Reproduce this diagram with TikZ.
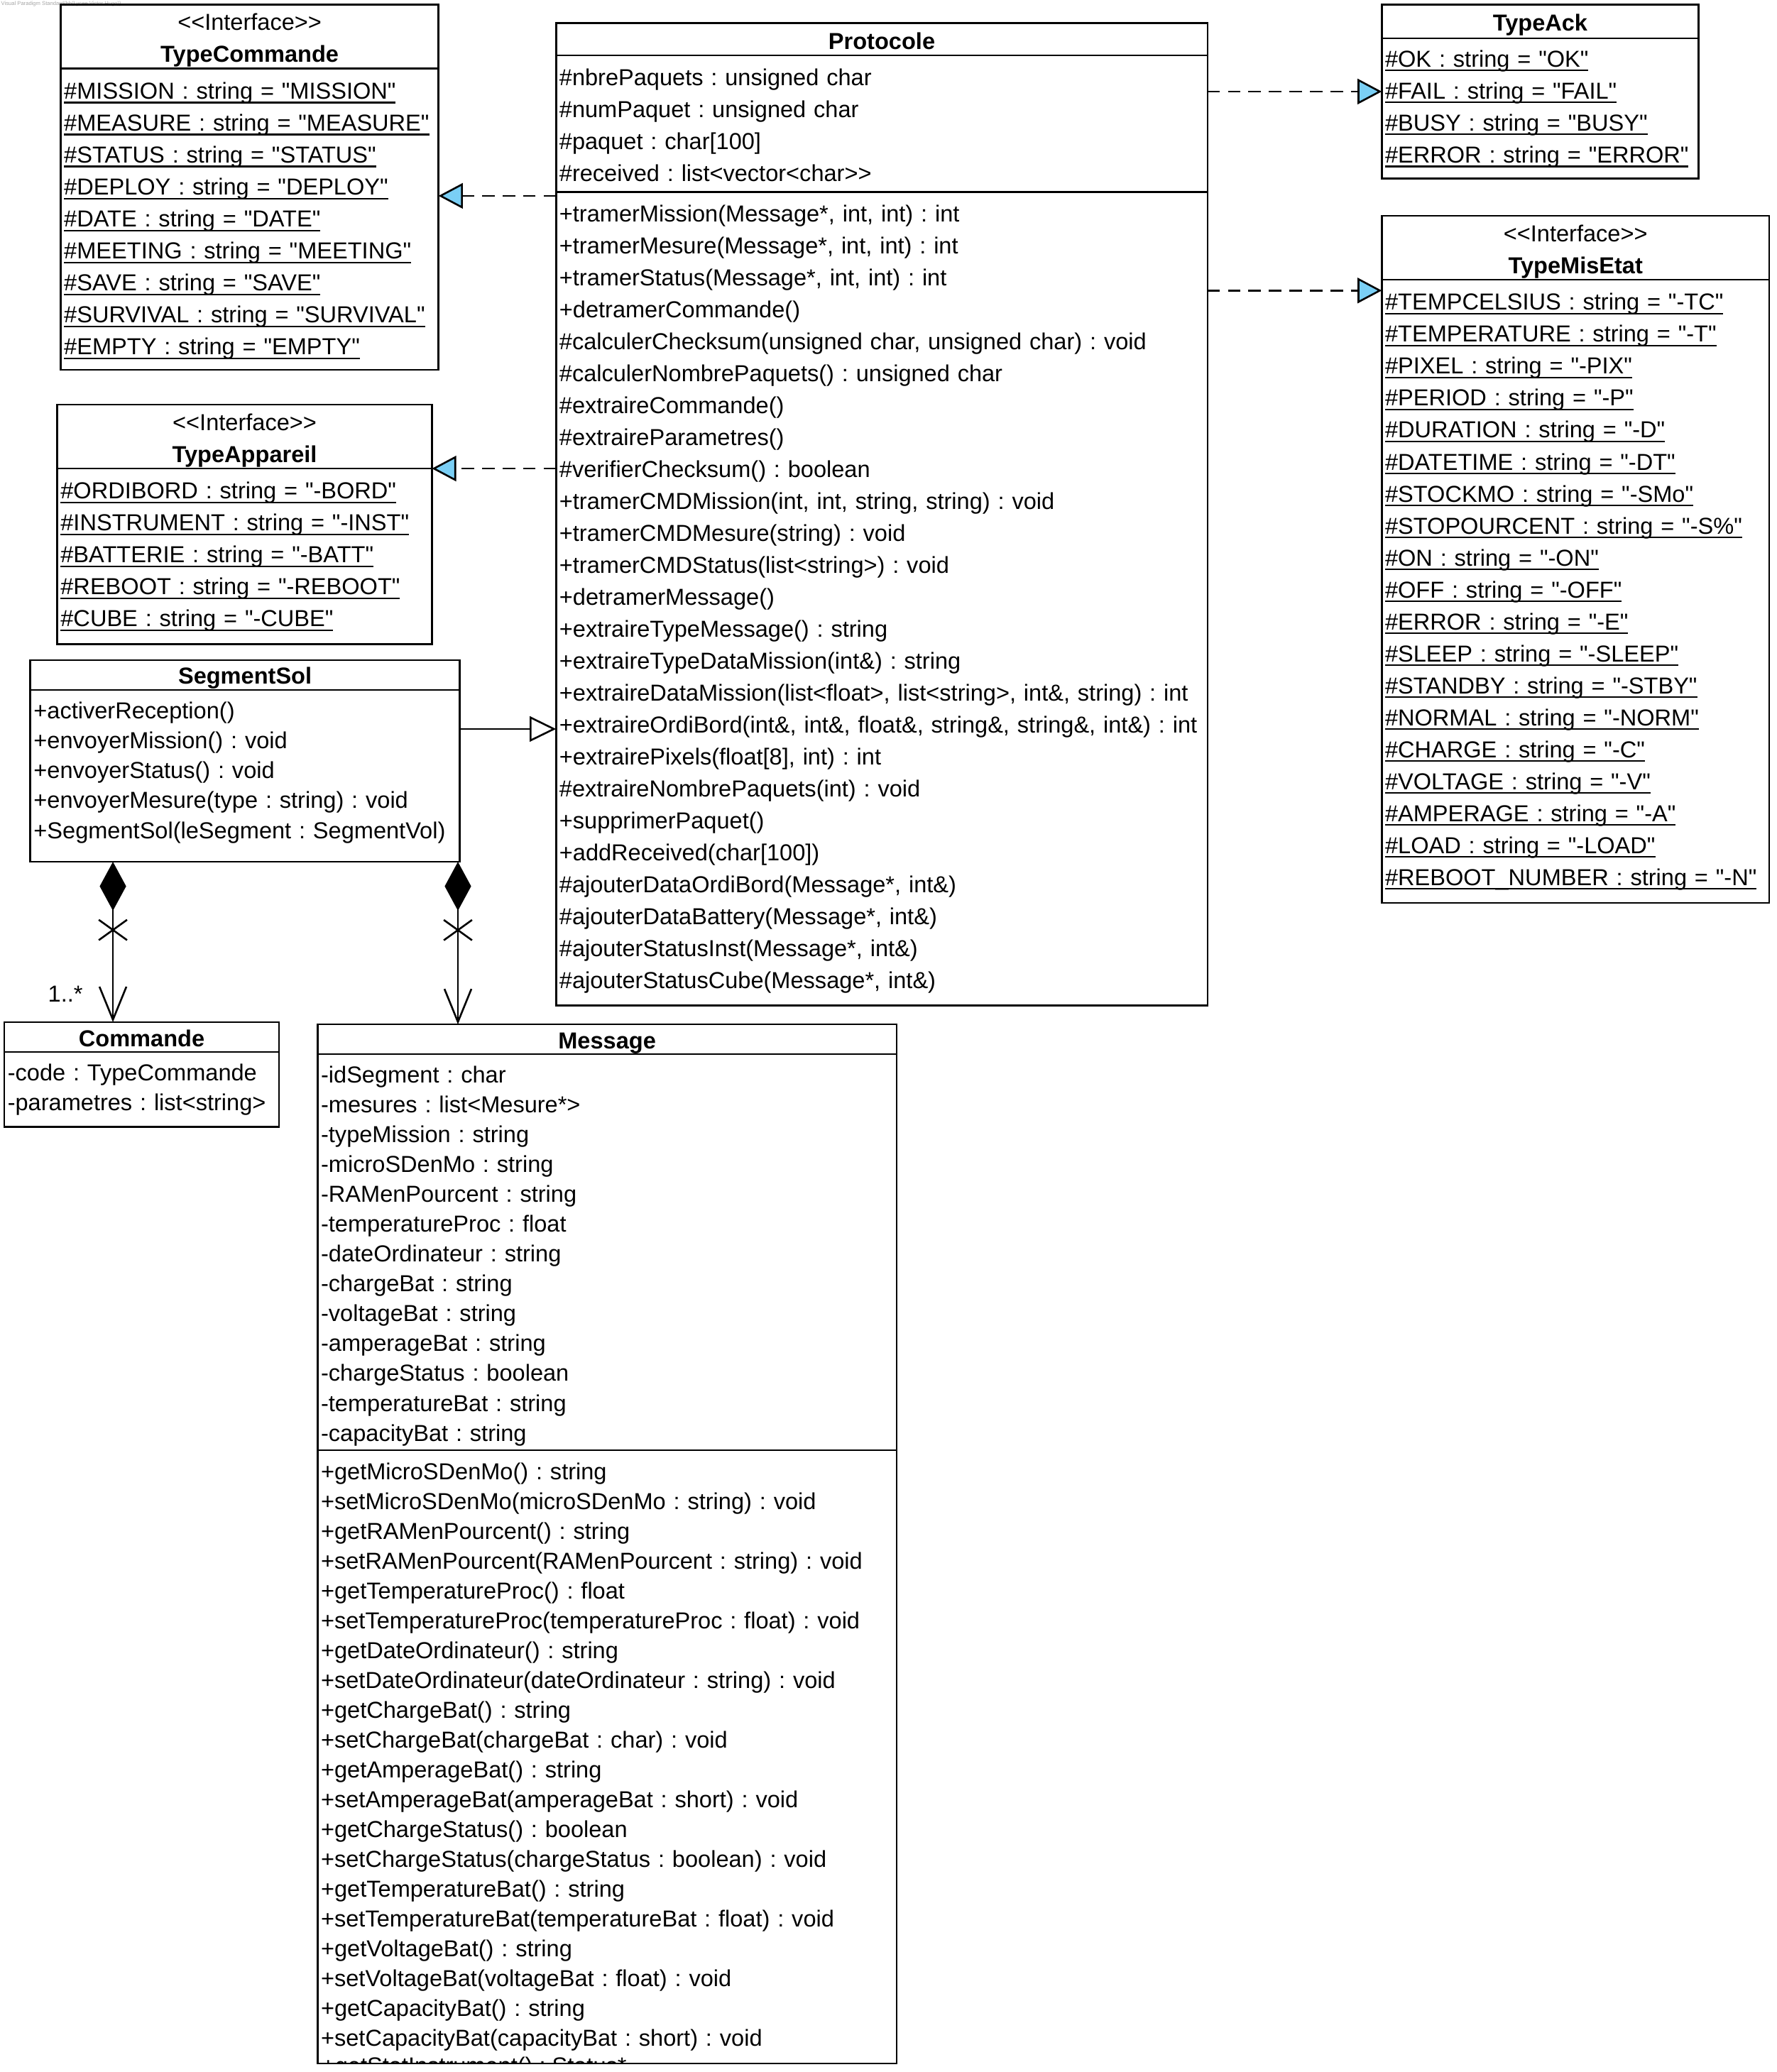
\documentclass[tikz,border=0pt]{standalone}
\usepackage{fontspec}
\setmainfont{Liberation Sans}[Ligatures=TeXOff]
\usetikzlibrary{positioning, arrows.meta, shapes.misc}

\definecolor{ifblue}{RGB}{122,207,245}
\newcommand{\umlA}{\fontsize{8.75pt}{12.1pt}\selectfont\frenchspacing}
\newcommand{\umlB}{\fontsize{8.75pt}{11.3pt}\selectfont\frenchspacing}
\newlength{\statwd}
\newcommand{\stat}[1]{\settowidth{\statwd}{#1}\mbox{\rlap{\rule[-1.65pt]{\statwd}{0.62pt}}#1}}

\tikzset{
    textdown/.store in=\txtdown, textdown=0pt, % moves the rows of a compartment down
    umlpart/.style={draw, line width=0.7pt, outer sep=0pt, inner xsep=1.25pt, inner ysep=0pt, font=\umlA,
        execute at begin node={\rule{0pt}{\dimexpr0.7\baselineskip+\txtdown\relax}},
        execute at end node={\rule[\dimexpr-0.3\baselineskip+\txtdown\relax]{0pt}{\dimexpr0.3\baselineskip-\txtdown\relax}}}, % one compartment of a class
    classhead/.style={umlpart, align=center, anchor=north west, textdown=1.25pt}, % compartment with the class name
    classbody/.style={umlpart, align=left, below=0pt of #1}, % attributes or operations
    realize/.style={dash pattern=on 4.75pt off 3pt, line width=0.7pt, arrows={-Triangle[length=9.2pt, width=9.6pt, fill=ifblue]}},
    generalize/.style={line width=0.7pt, arrows={-Triangle[length=10pt, width=9.6pt, fill=white]}},
    compose/.style={line width=0.7pt, arrows={Diamond[length=18.5pt, width=10pt, fill=black]-Straight Barb[length=12.5pt, width=10.2pt]}},
    xmark/.style={cross out, draw, solid, line width=0.7pt, minimum width=10pt, minimum height=7pt, inner sep=0pt},
}

\begin{document}
\begin{tikzpicture}[x=0.5pt, y=-0.5pt]
        \useasboundingbox (0,0) rectangle (1345,1569);

        % Nodes
        \node[anchor=west, inner sep=0pt, text=gray!70, font=\fontsize{2.05pt}{2.5pt}\selectfont] (vp-mark) at (0.5,3.2)
            {Visual Paradigm Standard(hh(Lycee Victor Hugo))};

        % TypeCommande
        \node[classhead, text width=140.5pt, minimum height=24.25pt] (typecmd-title) at (46,3.5)
            {<{}<Interface>{}>\\\textbf{TypeCommande}};
        \node[classbody=typecmd-title, textdown=0.5pt, text width=140.5pt, minimum height=114pt] (typecmd-attr) {
            \stat{\#MISSION : string = "MISSION"}\\
            \stat{\#MEASURE : string = "MEASURE"}\\
            \stat{\#STATUS : string = "STATUS"}\\
            \stat{\#DEPLOY : string = "DEPLOY"}\\
            \stat{\#DATE : string = "DATE"}\\
            \stat{\#MEETING : string = "MEETING"}\\
            \stat{\#SAVE : string = "SAVE"}\\
            \stat{\#SURVIVAL : string = "SURVIVAL"}\\
            \stat{\#EMPTY : string = "EMPTY"}};

        % TypeAppareil
        \node[classhead, text width=139.3pt, minimum height=24pt] (typeapp-title) at (43.4,306.4)
            {<{}<Interface>{}>\\\textbf{TypeAppareil}};
        \node[classbody=typeapp-title, text width=139.3pt, minimum height=66.45pt] (typeapp-attr) {
            \stat{\#ORDIBORD : string = "-BORD"}\\
            \stat{\#INSTRUMENT : string = "-INST"}\\
            \stat{\#BATTERIE : string = "-BATT"}\\
            \stat{\#REBOOT : string = "-REBOOT"}\\
            \stat{\#CUBE : string = "-CUBE"}};

        % SegmentSol
        \node[classhead, font=\umlB, text width=160pt, minimum height=11pt] (segsol-title) at (23,499.8)
            {\textbf{SegmentSol}};
        \node[classbody=segsol-title, textdown=-1.2pt, font=\umlB, text width=160pt, minimum height=65.1pt] (segsol-ops) {
            +activerReception()\\
            +envoyerMission() : void\\
            +envoyerStatus() : void\\
            +envoyerMesure(type : string) : void\\
            +SegmentSol(leSegment : SegmentVol)};

        % Protocole
        \node[classhead, text width=244.1pt, minimum height=12.15pt] (proto-title) at (421,17.6)
            {\textbf{Protocole}};
        \node[classbody=proto-title, textdown=1.25pt, text width=244.1pt, minimum height=51.8pt] (proto-attr) {
            \#nbrePaquets : unsigned char\\
            \#numPaquet : unsigned char\\
            \#paquet : char[100]\\
            \#received : list<vector<char>{}>};
        \node[classbody=proto-attr, text width=244.1pt, minimum height=307.95pt] (proto-ops) {
            +tramerMission(Message*, int, int) : int\\
            +tramerMesure(Message*, int, int) : int\\
            +tramerStatus(Message*, int, int) : int\\
            +detramerCommande()\\
            \#calculerChecksum(unsigned char, unsigned char) : void\\
            \#calculerNombrePaquets() : unsigned char\\
            \#extraireCommande()\\
            \#extraireParametres()\\
            \#verifierChecksum() : boolean\\
            +tramerCMDMission(int, int, string, string) : void\\
            +tramerCMDMesure(string) : void\\
            +tramerCMDStatus(list<string>) : void\\
            +detramerMessage()\\
            +extraireTypeMessage() : string\\
            +extraireTypeDataMission(int\&) : string\\
            +extraireDataMission(list<float>, list<string>, int\&, string) : int\\
            \mbox{+extraireOrdiBord(int\&, int\&, float\&, string\&, string\&, int\&) : int}\\
            +extrairePixels(float[8], int) : int\\
            \#extraireNombrePaquets(int) : void\\
            +supprimerPaquet()\\
            +addReceived(char[100])\\
            \#ajouterDataOrdiBord(Message*, int\&)\\
            \#ajouterDataBattery(Message*, int\&)\\
            \#ajouterStatusInst(Message*, int\&)\\
            \#ajouterStatusCube(Message*, int\&)};

        % TypeAck
        \node[classhead, text width=117.4pt, minimum height=12.75pt] (typeack-title) at (1046.2,3.5)
            {\textbf{TypeAck}};
        \node[classbody=typeack-title, text width=117.4pt, minimum height=53.15pt] (typeack-attr) {
            \stat{\#OK : string = "OK"}\\
            \stat{\#FAIL : string = "FAIL"}\\
            \stat{\#BUSY : string = "BUSY"}\\
            \stat{\#ERROR : string = "ERROR"}};

        % TypeMisEtat
        \node[classhead, text width=144.15pt, minimum height=23.9pt] (typemis-title) at (1046.2,163.4)
            {<{}<Interface>{}>\\\textbf{TypeMisEtat}};
        \node[classbody=typemis-title, text width=144.15pt, minimum height=236pt] (typemis-attr) {
            \stat{\#TEMPCELSIUS : string = "-TC"}\\
            \stat{\#TEMPERATURE : string = "-T"}\\
            \stat{\#PIXEL : string = "-PIX"}\\
            \stat{\#PERIOD : string = "-P"}\\
            \stat{\#DURATION : string = "-D"}\\
            \stat{\#DATETIME : string = "-DT"}\\
            \stat{\#STOCKMO : string = "-SMo"}\\
            \stat{\#STOPOURCENT : string = "-S\%"}\\
            \stat{\#ON : string = "-ON"}\\
            \stat{\#OFF : string = "-OFF"}\\
            \stat{\#ERROR : string = "-E"}\\
            \stat{\#SLEEP : string = "-SLEEP"}\\
            \stat{\#STANDBY : string = "-STBY"}\\
            \stat{\#NORMAL : string = "-NORM"}\\
            \stat{\#CHARGE : string = "-C"}\\
            \stat{\#VOLTAGE : string = "-V"}\\
            \stat{\#AMPERAGE : string = "-A"}\\
            \stat{\#LOAD : string = "-LOAD"}\\
            \stat{\#REBOOT\_NUMBER : string = "-N"}};

        % Commande
        \node[classhead, font=\umlB, text width=101.45pt, minimum height=11.15pt] (cmd-title) at (3.3,774)
            {\textbf{Commande}};
        \node[classbody=cmd-title, font=\umlB, text width=101.45pt, minimum height=28.35pt] (cmd-attr) {
            -code : TypeCommande\\
            -parametres : list<string>};

        % Message
        \node[classhead, font=\umlB, text width=216.65pt, minimum height=11.2pt] (msg-title) at (240.5,775.7)
            {\textbf{Message}};
        \node[classbody=msg-title, textdown=1.4pt, font=\umlB, text width=216.65pt, minimum height=149.95pt] (msg-attr) {
            -idSegment : char\\
            -mesures : list<Mesure*>\\
            -typeMission : string\\
            -microSDenMo : string\\
            -RAMenPourcent : string\\
            -temperatureProc : float\\
            -dateOrdinateur : string\\
            -chargeBat : string\\
            -voltageBat : string\\
            -amperageBat : string\\
            -chargeStatus : boolean\\
            -temperatureBat : string\\
            -capacityBat : string};
        \node[classbody=msg-attr, font=\umlB, text width=216.65pt, minimum height=232.2pt] (msg-ops) {
            +getMicroSDenMo() : string\\
            +setMicroSDenMo(microSDenMo : string) : void\\
            +getRAMenPourcent() : string\\
            +setRAMenPourcent(RAMenPourcent : string) : void\\
            +getTemperatureProc() : float\\
            +setTemperatureProc(temperatureProc : float) : void\\
            +getDateOrdinateur() : string\\
            +setDateOrdinateur(dateOrdinateur : string) : void\\
            +getChargeBat() : string\\
            +setChargeBat(chargeBat : char) : void\\
            +getAmperageBat() : string\\
            +setAmperageBat(amperageBat : short) : void\\
            +getChargeStatus() : boolean\\
            +setChargeStatus(chargeStatus : boolean) : void\\
            +getTemperatureBat() : string\\
            +setTemperatureBat(temperatureBat : float) : void\\
            +getVoltageBat() : string\\
            +setVoltageBat(voltageBat : float) : void\\
            +getCapacityBat() : string\\
            +setCapacityBat(capacityBat : short) : void};
        % last operation, cut by the bottom of the box
        \begin{scope}
            \clip (msg-ops.north west) rectangle (msg-ops.south east);
            \node[anchor=base west, inner sep=0pt, font=\umlB] (msg-cut) at ([xshift=1.25pt, yshift=-3.8pt]msg-ops.south west)
                {+getStatInstrument() : Status*};
        \end{scope}

        % ports for the edges
        \coordinate (ackport) at ([yshift=-20.15pt]typeack-attr.north west);
        \coordinate (misport) at ([yshift=-4.1pt]typemis-attr.north west);
        \coordinate (genport) at ([yshift=-14.8pt]segsol-ops.north east);
        \coordinate (cmdx) at (85.5,0);
        \coordinate (msgx) at (346.7,0);

        % edges
        \draw ([yshift=-1.4pt]proto-ops.north west) edge[realize] ([yshift=-1.4pt]proto-ops.north west -| typecmd-attr.east);
        \draw (typeapp-attr.north east -| proto-ops.west) edge[realize] (typeapp-attr.north east);
        \draw (proto-attr.east |- ackport) edge[realize] (ackport);
        \draw (proto-ops.east |- misport) edge[realize] (misport);
        \draw (genport) edge[generalize] (genport -| proto-ops.west);
        \draw (segsol-ops.south -| cmdx)
                edge[compose]
                node[xmark, pos=.425] {}
            (cmd-title.north -| cmdx);
        \draw (segsol-ops.south -| msgx)
                edge[compose]
                node[xmark, pos=.42] {}
            (msg-title.north -| msgx);
        \node[inner sep=0pt, font=\umlA] (cmd-mult) at (49.5,752.5) {1..*};
\end{tikzpicture}
\end{document}
